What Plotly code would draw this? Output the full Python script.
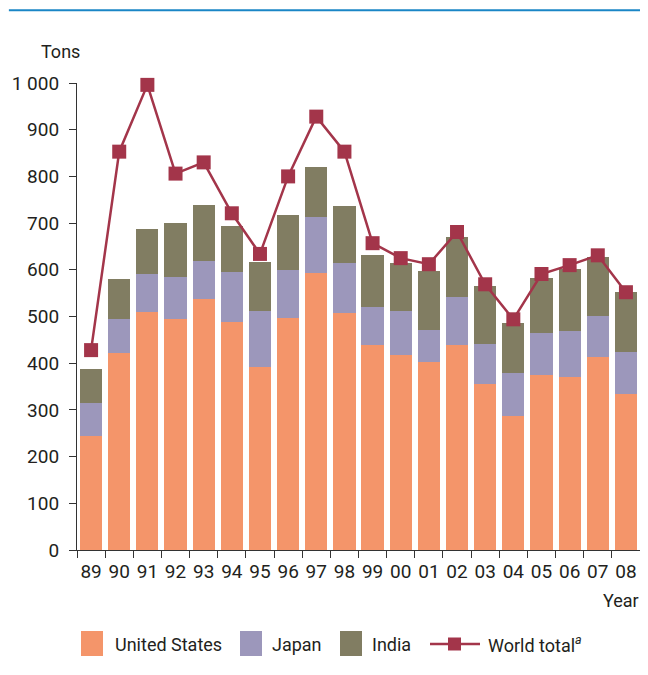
import plotly.graph_objects as go

# Значения (тонны)
years = ["89", "90", "91", "92", "93", "94", "95", "96", "97", "98",
         "99", "00", "01", "02", "03", "04", "05", "06", "07", "08"]
united_states = [244, 422, 510, 495, 538, 489, 392, 497, 594, 508,
                 438, 418, 403, 438, 356, 287, 375, 371, 414, 335]
japan = [71, 73, 81, 90, 81, 107, 120, 103, 120, 107,
         83, 94, 68, 104, 85, 92, 90, 98, 87, 89]
india = [73, 86, 97, 116, 120, 98, 105, 118, 107, 121,
         111, 103, 127, 129, 125, 107, 118, 133, 127, 129]
world_total = [428, 853, 996, 806, 830, 721, 634, 800, 928, 853,
               657, 625, 612, 681, 569, 494, 591, 610, 631, 552]

y_ticks = [0, 100, 200, 300, 400, 500, 600, 700, 800, 900, 1000]
y_tick_text = ["0", "100", "200", "300", "400", "500", "600", "700", "800", "900", "1 000"]

FONT = "Roboto, Liberation Sans, sans-serif"
FS_TICK = 19
FS = 18
TXT = "#231f20"
C_US = "#f4956a"
C_JP = "#9c97bb"
C_IN = "#817d62"
C_WT = "#a3354a"

fig = go.Figure()
for vals, name, color in [(united_states, "United States", C_US),
                          (japan, "Japan", C_JP),
                          (india, "India", C_IN)]:
    fig.add_trace(go.Bar(x=years, y=vals, name=name,
                         marker=dict(color=color, line=dict(width=0))))
fig.add_trace(go.Scatter(
    x=years, y=world_total, name="World total", mode="lines+markers",
    line=dict(color=C_WT, width=2.5),
    marker=dict(symbol="square", size=14, color=C_WT),
    cliponaxis=False,
))

# страница смещена на 8 px (отступ body), поэтому фигура меньше на 8 px
fig.update_layout(
    width=640, height=667,
    margin=dict(l=69, r=8, t=75, b=125),
    barmode="stack", bargap=0.21,
    plot_bgcolor="white", paper_bgcolor="white",
    font=dict(family=FONT, size=FS, color=TXT),
    showlegend=False,
)
fig.update_xaxes(
    type="category", range=[-0.5, len(years) - 0.5],
    tickson="boundaries", ticks="outside", ticklen=7,
    tickcolor="#333", showline=True, linecolor="#333", linewidth=1.2,
    showgrid=False, tickangle=0, automargin=False, ticklabelstandoff=4,
    tickfont=dict(size=FS_TICK, color=TXT),
)
fig.update_yaxes(
    range=[0, 1000], tickvals=y_ticks, ticktext=y_tick_text,
    ticks="outside", ticklen=7, tickcolor="#333",
    showline=True, linecolor="#333", linewidth=1.2, automargin=False,
    ticklabelstandoff=6,
    showgrid=False, zeroline=False, tickfont=dict(size=FS_TICK, color=TXT),
)

# Верхняя синяя линия
fig.add_shape(type="line", xref="paper", yref="paper",
              x0=-0.121, x1=1.015, y0=1.156, y1=1.156,
              line=dict(color="#1a86c6", width=2))

# Подписи осей
def px_x(px):
    return (px - 77) / 563

def px_y(py):
    return (550 - py) / 467

fig.add_annotation(text="Tons", xref="paper", yref="paper", x=px_x(60), y=px_y(52),
                   xanchor="center", yanchor="middle", showarrow=False,
                   font=dict(size=FS, color=TXT))
fig.add_annotation(text="Year", xref="paper", yref="paper", x=px_x(641), y=px_y(600),
                   xanchor="right", yanchor="middle", showarrow=False,
                   font=dict(size=FS, color=TXT))

# Легенда вручную
legend_items = [("United States", C_US, 81, 113), ("Japan", C_JP, 240, 270), ("India", C_IN, 340, 370)]
for label, color, sx, tx in legend_items:
    fig.add_shape(type="rect", xref="paper", yref="paper",
                  x0=px_x(sx), x1=px_x(sx + 22), y0=px_y(656), y1=px_y(631),
                  fillcolor=color, line=dict(width=0))
    fig.add_annotation(text=label, xref="paper", yref="paper", x=px_x(tx), y=px_y(644),
                       xanchor="left", yanchor="middle", showarrow=False,
                       font=dict(size=FS, color=TXT))

fig.add_shape(type="line", xref="paper", yref="paper",
              x0=px_x(430), x1=px_x(480), y0=px_y(644), y1=px_y(644),
              line=dict(color=C_WT, width=2.5))
fig.add_shape(type="rect", xref="paper", yref="paper",
              x0=px_x(448), x1=px_x(461), y0=px_y(650.5), y1=px_y(637.5),
              fillcolor=C_WT, line=dict(width=0))
fig.add_annotation(text="World total<sup><i>a</i></sup>", xref="paper", yref="paper",
                   x=px_x(486), y=px_y(644), xanchor="left", yanchor="middle",
                   showarrow=False, font=dict(size=FS, color=TXT))

fig.write_html("out.html")
